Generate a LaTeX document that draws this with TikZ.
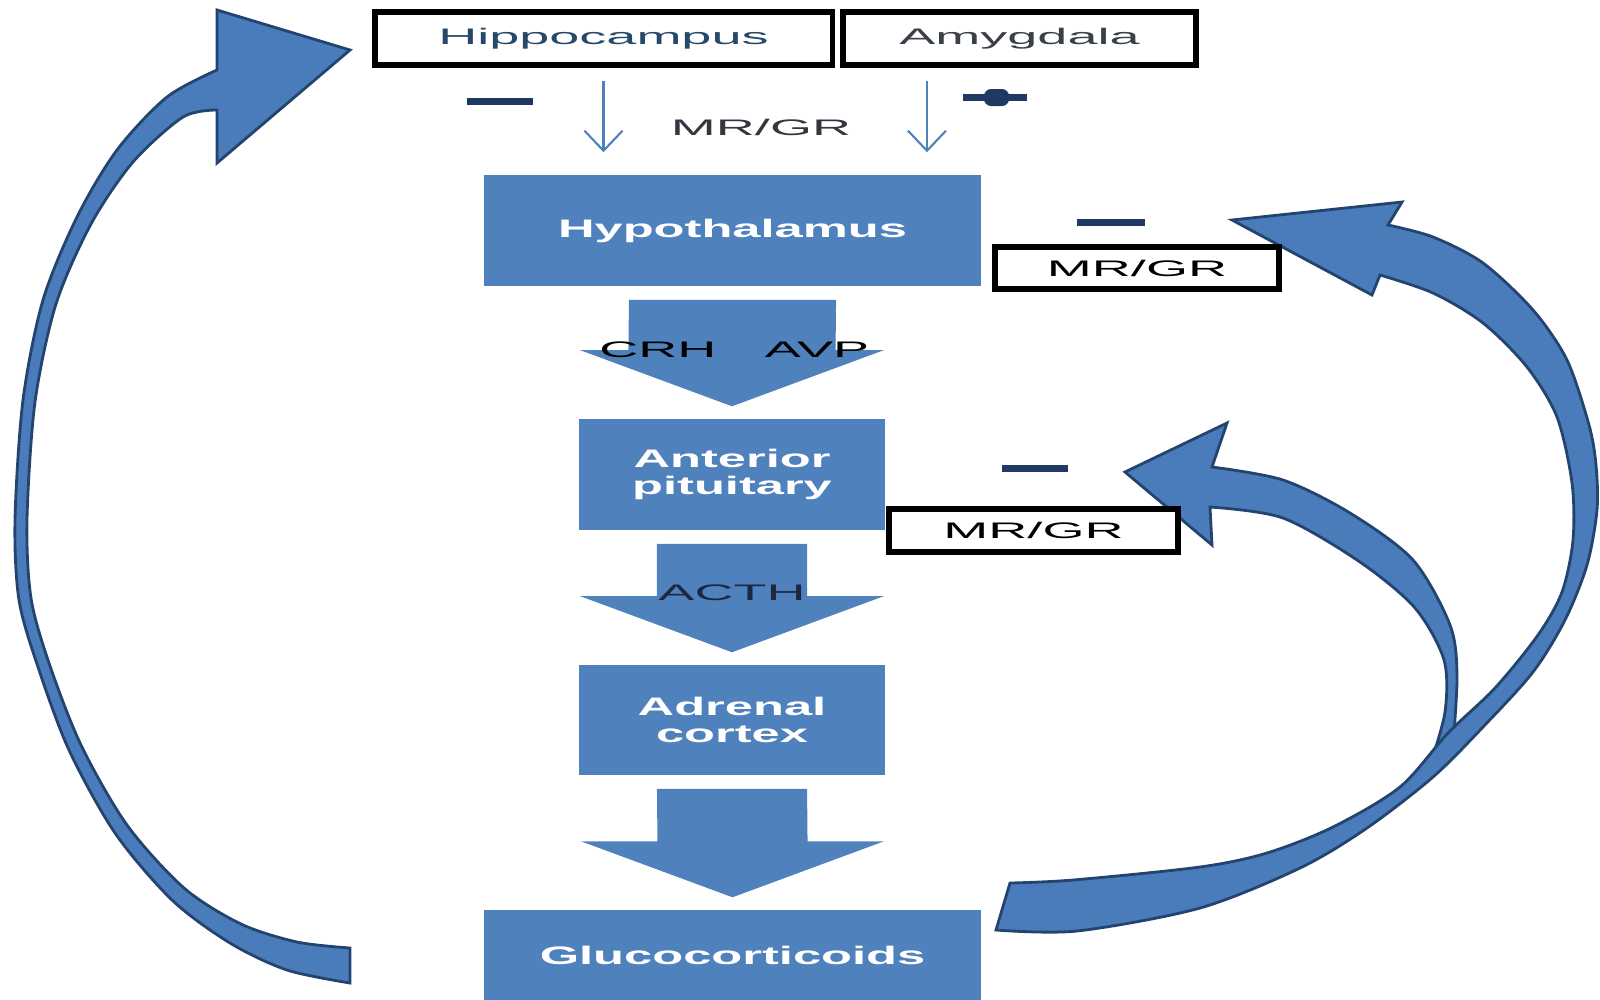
\documentclass[tikz,border=0pt]{standalone}
\usepackage{fontspec}
\usepackage{tikz}
\usetikzlibrary{arrows.meta}
\newfontfamily\lblfont{Liberation Sans}[FakeStretch=2.4]
\newfontfamily\boxfont{Liberation Sans}[FakeStretch=2.0]
\definecolor{boxblue}{RGB}{79,129,189}
\definecolor{bendblue}{RGB}{74,124,187}
\definecolor{bendedge}{RGB}{36,68,112}
\definecolor{signnavy}{RGB}{31,56,100}
\definecolor{hippotext}{RGB}{40,72,104}
\definecolor{amygtext}{RGB}{58,64,72}
\definecolor{labelgrey}{RGB}{50,54,62}
\definecolor{acthtext}{RGB}{28,40,64}

\begin{document}
\begin{tikzpicture}[x=0.01cm, y=-0.01cm,
  outlinebox/.style={draw=black, line width=1.5pt, fill=white, inner sep=0pt,
    font=\lblfont\fontsize{6.4}{7}\selectfont},
  bluebox/.style={fill=boxblue, text=white, inner sep=0pt, align=center,
    font=\boxfont\bfseries\fontsize{7.2}{7.5}\selectfont},
  lbl/.style={inner sep=0pt, font=\lblfont\fontsize{6.4}{7}\selectfont},
  thinarrow/.style={draw=boxblue, line width=0.6pt, -{Straight Barb[length=0.2cm,width=0.38cm]}},
  signbar/.style={draw=signnavy, line width=0.07cm},
  bentarrow/.style={fill=bendblue, draw=bendedge, line width=0.8pt, line join=miter}]
\useasboundingbox (0,0) rectangle (1600,999);

% feedback arrows
\filldraw[bentarrow] plot[smooth] coordinates {(350,983) (287,970) (230,943) (172,900) (115,833) (69,750) (38,667) (19,600) (15,520) (23,400) (43,300) (77,217) (117,150) (167,97) (217,70)}
  -- (217,10) -- (350,50) -- (217,163)
  -- plot[smooth] coordinates {(217,110) (183,117) (133,162) (91,224) (56,304) (35,402) (27,520) (31,598) (49,663) (81,745) (127,825) (184,888) (241,924) (297,942) (350,948)} -- cycle;
\filldraw[bentarrow] plot[smooth] coordinates {(1212,467) (1283,480) (1350,513) (1413,560) (1450,625) (1457,677) (1452,758)}
  -- plot[smooth] coordinates {(1430,765) (1445,712) (1444,660) (1415,608) (1360,562) (1283,518) (1210,507)}
  -- (1212,545) -- (1125,472) -- (1227,423) -- cycle;
\filldraw[bentarrow] plot[smooth] coordinates {(996,930) (1077,931) (1200,908) (1300,868) (1367,828) (1433,777) (1483,727) (1533,672) (1565,620) (1587,565) (1597,510) (1596,465) (1589,425) (1567,360) (1533,310) (1483,263) (1433,237) (1388,225)}
  -- (1402,202) -- (1232,220) -- (1372,295)
  -- plot[smooth] coordinates {(1380,275) (1433,293) (1483,323) (1527,367) (1557,417) (1572,483) (1573,540) (1562,592) (1538,635) (1495,688) (1448,733) (1400,787) (1333,827) (1267,853) (1200,867) (1073,880) (1010,883)} -- cycle;

% boxes
\node[outlinebox, text=hippotext, minimum width=4.57cm, minimum height=0.53cm] (hippo) at (603.5,38.5) {Hippocampus};
\node[outlinebox, text=amygtext, minimum width=3.53cm, minimum height=0.53cm] (amyg) at (1019.5,38.5) {Amygdala};
\node[bluebox, minimum width=4.97cm, minimum height=1.11cm] (hypo) at (732.5,230.5) {Hypothalamus};
\node[outlinebox, minimum width=2.84cm, minimum height=0.42cm] (mrgrA) at (1137,268) {MR/GR};
\node[bluebox, minimum width=3.06cm, minimum height=1.11cm] (pit) at (732,474.5) {Anterior\\pituitary};
\node[outlinebox, minimum width=2.89cm, minimum height=0.43cm] (mrgrB) at (1033.5,530.5) {MR/GR};
\node[bluebox, minimum width=3.06cm, minimum height=1.10cm] (adr) at (732,720) {Adrenal\\cortex};
\node[bluebox, minimum width=4.97cm, minimum height=0.90cm] (gluc) at (732.5,955) {Glucocorticoids};

% block arrows down the axis
\foreach \a/\b/\half in {hypo/pit/1.035, pit/adr/0.75, adr/gluc/0.75}
  \fill[boxblue] ([xshift=-\half cm,yshift=-0.13cm]\a.south) -- ([xshift=\half cm,yshift=-0.13cm]\a.south)
    -- ([xshift=\half cm,yshift=0.68cm]\b.north) -- ([xshift=1.515cm,yshift=0.68cm]\b.north)
    -- ([yshift=0.12cm]\b.north) -- ([xshift=-1.515cm,yshift=0.68cm]\b.north)
    -- ([xshift=-\half cm,yshift=0.68cm]\b.north) -- cycle;
\node[lbl] (crh) at (658,350) {CRH};
\node[lbl] (avp) at (817,350) {AVP};
\node[lbl, text=acthtext] (acth) at (732,593) {ACTH};

% inputs to the hypothalamus
\coordinate (amygout) at ([xshift=-0.925cm]amyg.south);
\draw[thinarrow, shorten <=0.13cm, shorten >=0.22cm] (hippo.south) -- (hippo.south |- hypo.north);
\draw[thinarrow, shorten <=0.13cm, shorten >=0.22cm] (amygout) -- (amygout |- hypo.north);
\node[lbl, text=labelgrey] (mrgr) at (761,127) {MR/GR};

% signs
\draw[signbar] (467,101) -- (533,101);
\draw[signbar] (963,97) -- (1027,97);
\fill[signnavy, rounded corners=2pt] (984,89) rectangle (1009,106);
\draw[signbar] (1077,222) -- (1145,222);
\draw[signbar] (1002,468) -- (1068,468);
\end{tikzpicture}
\end{document}
